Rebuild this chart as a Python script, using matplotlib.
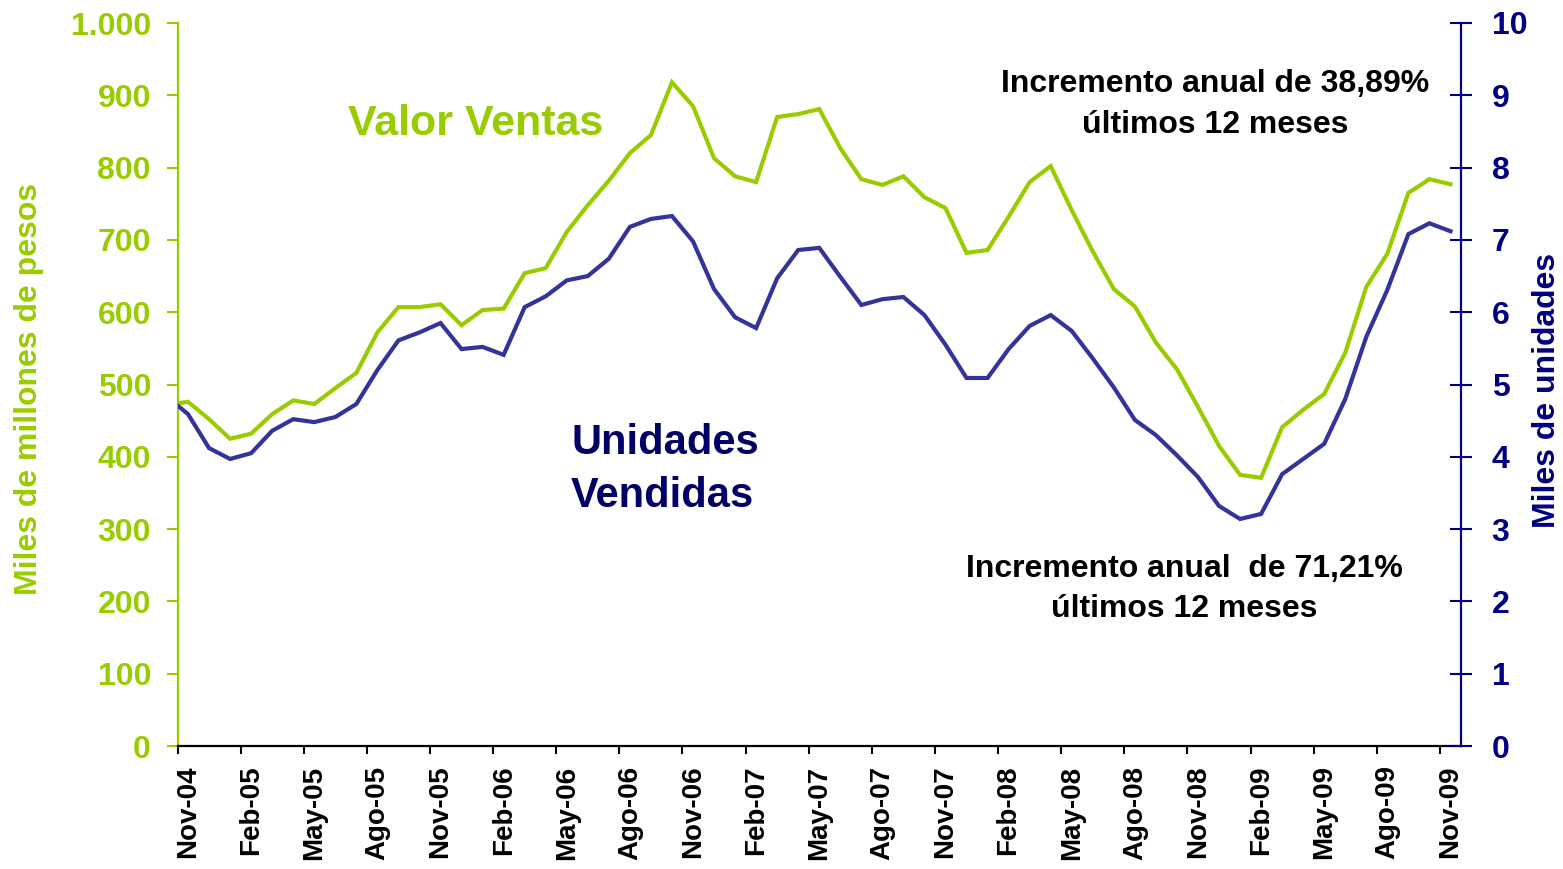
import matplotlib
matplotlib.use("Agg")
import matplotlib.pyplot as plt
import numpy as np

plt.rcParams['font.family'] = ['Liberation Sans', 'DejaVu Sans']
plt.rcParams['font.weight'] = 'bold'

GREEN = '#99CC00'
LINE_BLUE = '#333399'
NAVY = '#000080'
DARK_NAVY = '#000066'

W, H = 1563, 869

# monthly values Oct-04 .. Nov-09 (Oct-04 only shows as the line start at the axis)
valor_ventas = [472, 476, 452,
                425, 432, 459, 478, 473, 495, 516, 572, 607, 607, 611, 582,
                603, 605, 654, 661, 711, 748, 782, 820, 845, 918, 885, 813,
                788, 780, 870, 874, 881, 827, 784, 776, 788, 759, 744, 682,
                686, 732, 780, 802, 741, 684, 632, 608, 558, 521, 469, 415,
                375, 371, 441, 465, 487, 544, 635, 681, 765, 784, 777]

unidades = [4.83, 4.59, 4.12,
            3.97, 4.05, 4.36, 4.52, 4.48, 4.55, 4.73, 5.20, 5.61, 5.72, 5.85, 5.49,
            5.52, 5.41, 6.07, 6.22, 6.44, 6.50, 6.74, 7.18, 7.29, 7.33, 6.98, 6.32,
            5.93, 5.78, 6.47, 6.86, 6.89, 6.49, 6.10, 6.18, 6.21, 5.96, 5.55, 5.09,
            5.09, 5.49, 5.81, 5.96, 5.74, 5.36, 4.96, 4.51, 4.30, 4.02, 3.72, 3.32,
            3.14, 3.21, 3.76, 3.97, 4.18, 4.80, 5.66, 6.31, 7.08, 7.23, 7.12]

x_labels = ['Nov-04', 'Feb-05', 'May-05', 'Ago-05', 'Nov-05', 'Feb-06', 'May-06',
            'Ago-06', 'Nov-06', 'Feb-07', 'May-07', 'Ago-07', 'Nov-07', 'Feb-08',
            'May-08', 'Ago-08', 'Nov-08', 'Feb-09', 'May-09', 'Ago-09', 'Nov-09']

left_ticks = [0, 100, 200, 300, 400, 500, 600, 700, 800, 900, 1000]
left_labels = ['0', '100', '200', '300', '400', '500', '600', '700', '800', '900', '1.000']
right_ticks = [0, 1, 2, 3, 4, 5, 6, 7, 8, 9, 10]


def px(x, y):
    # pixel position in the picture -> figure fraction
    return x / W, 1 - y / H


fig = plt.figure(figsize=(W / 100, H / 100), dpi=100)
ax = fig.add_axes([177.5 / W, 123 / H, (1461 - 177.5) / W, 723 / H])
ax2 = ax.twinx()

months = np.arange(len(valor_ventas)) - 1  # Nov-04 at 0

ax.plot(months, valor_ventas, color=GREEN, lw=3, solid_joinstyle='miter')
ax2.plot(months, unidades, color=LINE_BLUE, lw=3, solid_joinstyle='miter')

ax.set_xlim(-0.5, 60.5)
ax.set_ylim(0, 1000)
ax2.set_ylim(0, 10)

# spines
ax.spines['top'].set_visible(False)
ax.spines['right'].set_visible(False)
ax.spines['left'].set_color(GREEN)
ax.spines['left'].set_linewidth(1.6)
ax.spines['bottom'].set_color('black')
ax.spines['bottom'].set_linewidth(1.6)
for s in ['left', 'top', 'bottom']:
    ax2.spines[s].set_visible(False)
ax2.spines['right'].set_color(NAVY)
ax2.spines['right'].set_linewidth(1.6)

# x axis: tick marks between categories, labels on categories
ax.set_xticks(np.arange(-0.5, 60, 3))
ax.set_xticklabels([])
ax.tick_params(axis='x', which='major', direction='out', length=6, width=1.5, color='black')
ax.set_xticks(np.arange(0, 61, 3), minor=True)
ax.set_xticklabels(x_labels, minor=True, rotation=90, fontsize=20, fontweight='bold')
ax.tick_params(axis='x', which='minor', length=0, pad=14)

# left axis
ax.set_yticks(left_ticks)
ax.set_yticklabels(left_labels, fontsize=23, fontweight='bold', color=GREEN)
ax.tick_params(axis='y', direction='out', length=8, width=1.5, color=GREEN, pad=11)

# right axis
ax2.set_yticks(right_ticks)
ax2.set_yticklabels([str(t) for t in right_ticks], fontsize=23, fontweight='bold', color=NAVY)
ax2.tick_params(axis='y', direction='inout', length=16, width=1.5, color=NAVY, pad=14)

# axis titles
fig.text(*px(29, 389), 'Miles de millones de pesos', rotation=90, ha='center', va='center',
         fontsize=23, fontweight='bold', color=GREEN)
fig.text(*px(1547, 390), 'Miles de unidades', rotation=90, ha='center', va='center',
         fontsize=23, fontweight='bold', color=NAVY)

# series names
fig.text(*px(348, 135), 'Valor Ventas', ha='left', va='baseline',
         fontsize=31, fontweight='bold', color=GREEN)
fig.text(*px(571, 454), 'Unidades', ha='left', va='baseline',
         fontsize=30, fontweight='bold', color=DARK_NAVY)
fig.text(*px(571, 507), 'Vendidas', ha='left', va='baseline',
         fontsize=30, fontweight='bold', color=DARK_NAVY)

# annotations
fig.text(*px(1215, 92), 'Incremento anual de 38,89%', ha='center', va='baseline',
         fontsize=23, fontweight='bold', color='black')
fig.text(*px(1215, 133), 'últimos 12 meses', ha='center', va='baseline',
         fontsize=23, fontweight='bold', color='black')
fig.text(*px(1184, 577), 'Incremento anual  de 71,21%', ha='center', va='baseline',
         fontsize=23, fontweight='bold', color='black')
fig.text(*px(1184, 617), 'últimos 12 meses', ha='center', va='baseline',
         fontsize=23, fontweight='bold', color='black')

fig.savefig('out.png', dpi=100)
